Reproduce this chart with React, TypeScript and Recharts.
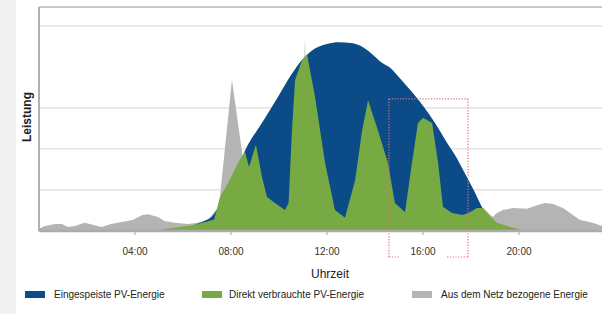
import React from 'react';
import {
  AreaChart,
  Area,
  XAxis,
  YAxis,
  CartesianGrid,
  ReferenceLine,
} from 'recharts';

// ---- data (hours of day, relative power) ----
const hourTicks = [4, 8, 12, 16, 20];
const tickLabels = ['04:00', '08:00', '12:00', '16:00', '20:00'];
const gridLines = [0, 1, 2, 3, 5];

// Eingespeiste PV-Energie (PV production envelope)
const pvTimes = [6.1, 6.4, 6.9, 7.2, 7.5, 8.0, 8.5, 8.6, 9.29, 9.96, 10.5, 11.0, 11.5, 12.0, 12.5, 13.0, 13.5, 14.0, 14.29, 14.63, 15.0, 15.46, 16.0, 16.5, 17.0, 17.33, 17.75, 18.17, 18.46, 18.6, 18.7];
const pvValues = [0, 0.12, 0.25, 0.35, 0.6, 1.25, 1.85, 1.98, 2.63, 3.27, 3.8, 4.2, 4.45, 4.56, 4.6, 4.58, 4.48, 4.25, 4.1, 3.98, 3.75, 3.44, 3.05, 2.63, 2.15, 1.85, 1.4, 0.93, 0.58, 0.45, 0];

// Direkt verbrauchte PV-Energie
const directTimes = [4.75, 6.5, 7.3, 7.54, 7.88, 8.29, 8.58, 8.75, 9.04, 9.29, 9.5, 9.83, 10.25, 10.4, 10.54, 10.67, 10.96, 11.17, 11.5, 11.92, 12.33, 12.75, 13.17, 13.46, 13.71, 14.13, 14.54, 14.83, 15.25, 15.54, 15.79, 16.0, 16.38, 16.63, 16.83, 17.21, 17.63, 17.9, 18.25, 18.5, 18.83, 19.08, 19.63, 20.13, 20.2];
const directValues = [0, 0.15, 0.28, 0.83, 1.17, 1.66, 1.93, 1.56, 2.1, 1.32, 0.83, 0.68, 0.51, 0.68, 2.46, 3.68, 4.17, 4.3, 3.27, 1.66, 0.51, 0.32, 1.24, 2.44, 3.19, 2.44, 1.66, 0.68, 0.46, 1.66, 2.63, 2.76, 2.63, 1.66, 0.59, 0.44, 0.39, 0.44, 0.56, 0.56, 0.34, 0.2, 0.1, 0.02, 0];

// Aus dem Netz bezogene Energie
const gridTimes = [0, 0.04, 0.25, 0.67, 0.96, 1.2, 1.5, 1.9, 2.25, 2.6, 3.0, 3.45, 3.9, 4.3, 4.55, 4.96, 5.25, 5.67, 6.2, 6.6, 7.0, 7.5, 8.04, 8.5, 8.8, 9.2, 10.85, 11.08, 11.3, 18.3, 18.5, 18.9, 19.08, 19.33, 19.75, 20.33, 20.75, 21.08, 21.42, 21.83, 22.13, 22.54, 23.08, 23.46, 24];
const gridValues = [0.05, 0.07, 0.12, 0.17, 0.17, 0.1, 0.12, 0.2, 0.15, 0.1, 0.17, 0.22, 0.27, 0.39, 0.41, 0.34, 0.24, 0.2, 0.17, 0.2, 0.25, 0.6, 3.68, 1.75, 0.5, 0.2, 0.2, 4.66, 0.2, 0.2, 0.56, 0.34, 0.44, 0.51, 0.56, 0.54, 0.63, 0.68, 0.66, 0.56, 0.44, 0.27, 0.2, 0.12, 0.1];

// highlighted window (dotted box), in hours / power units
const boxHours = [14.58, 17.875];
const boxValues = [-0.634, 3.22];
const boxGapHours = [15.04, 17.0];

const seriesNames = ['Eingespeiste PV-Energie', 'Direkt verbrauchte PV-Energie', 'Aus dem Netz bezogene Energie'];
const seriesColors = ['#0b4c88', '#77aa43', '#b4b4b4'];

const Y_MAX = 5.46;

const toData = (ts: number[], vs: number[]) => ts.map((t, i) => ({ t, v: vs[i] }));
const pvData = toData(pvTimes, pvValues);
const directData = toData(directTimes, directValues);
const gridData = toData(gridTimes, gridValues);

const FONT = '"Liberation Sans", Arial, Helvetica, sans-serif';
const RED = '#e0707c';

const legendRects = [25, 202, 412];
const legendTexts = [54, 229, 441];

const EmptyTick = () => <g />;

export default function App() {
  const boxStroke = { stroke: RED, strokeWidth: 1.2, strokeDasharray: '1.2 1.6', ifOverflow: 'visible' as const };
  return (
    <div
      style={{
        position: 'fixed',
        left: 0,
        top: 0,
        width: 602,
        height: 314,
        overflow: 'hidden',
        background: '#ffffff',
        fontFamily: FONT,
      }}
    >
      <div style={{ position: 'absolute', left: 0, top: 0, width: 16, height: 314, background: '#f1f1f1' }} />
      <div style={{ position: 'absolute', left: 0, top: 0 }}>
        <AreaChart width={640} height={314} margin={{ top: 7, right: 25, bottom: 53, left: 0 }}>
          <CartesianGrid vertical={false} horizontal={true} stroke="#dddddd" strokeWidth={1.2} />
          <XAxis
            type="number"
            dataKey="t"
            domain={[0, 24]}
            ticks={hourTicks}
            allowDataOverflow
            tickFormatter={(v: number) => tickLabels[hourTicks.indexOf(v)]}
            height={30}
            tickSize={4}
            tickMargin={13}
            tick={{ fontSize: 10, fill: '#333', fontFamily: FONT }}
            tickLine={{ stroke: '#aaa' }}
            axisLine={{ stroke: '#ababab', strokeWidth: 2.5 }}
            label={{
              content: (p: any) => {
                const vb = p.viewBox || {};
                return (
                  <text x={vb.x + vb.width / 2 + 3} y={278} textAnchor="middle" fontSize={12} fill="#222" fontFamily={FONT}>
                    Uhrzeit
                  </text>
                );
              },
            }}
          />
          <YAxis
            type="number"
            domain={[0, Y_MAX]}
            ticks={gridLines}
            interval={0}
            tick={EmptyTick}
            tickLine={false}
            width={39}
            axisLine={{ stroke: '#b0b0b0', strokeWidth: 2 }}
            label={{
              content: (p: any) => {
                const vb = p.viewBox || {};
                const cx = 31;
                const cy = vb.y + vb.height / 2 - 2;
                return (
                  <text x={cx} y={cy} transform={`rotate(-90 ${cx} ${cy})`} textAnchor="middle" fontSize={12} fontWeight="bold" fill="#222" fontFamily={FONT}>
                    Leistung
                  </text>
                );
              },
            }}
          />
          <ReferenceLine y={Y_MAX} stroke="#bcbcbc" strokeWidth={1.5} />
          <Area data={gridData} dataKey="v" type="linear" stroke="none" fill={seriesColors[2]} fillOpacity={1} isAnimationActive={false} />
          <Area data={pvData} dataKey="v" type="monotone" stroke="none" fill={seriesColors[0]} fillOpacity={1} isAnimationActive={false} />
          <Area data={directData} dataKey="v" type="linear" stroke="none" fill={seriesColors[1]} fillOpacity={1} isAnimationActive={false} />
          <ReferenceLine segment={[{ x: boxHours[0], y: boxValues[1] }, { x: boxHours[1], y: boxValues[1] }]} {...boxStroke} />
          <ReferenceLine segment={[{ x: boxHours[0], y: boxValues[0] }, { x: boxHours[0], y: boxValues[1] }]} {...boxStroke} />
          <ReferenceLine segment={[{ x: boxHours[1], y: boxValues[0] }, { x: boxHours[1], y: boxValues[1] }]} {...boxStroke} />
          <ReferenceLine segment={[{ x: boxHours[0], y: boxValues[0] }, { x: boxGapHours[0], y: boxValues[0] }]} {...boxStroke} />
          <ReferenceLine segment={[{ x: boxGapHours[1], y: boxValues[0] }, { x: boxHours[1], y: boxValues[0] }]} {...boxStroke} />
        </AreaChart>
      </div>
      {seriesNames.map((name, i) => (
        <React.Fragment key={name}>
          <div style={{ position: 'absolute', left: legendRects[i], top: 291, width: 20, height: 7, background: seriesColors[i] }} />
          <div style={{ position: 'absolute', left: legendTexts[i], top: 288, fontSize: 10, lineHeight: '13px', color: '#222', fontFamily: FONT, whiteSpace: 'nowrap' }}>
            {name}
          </div>
        </React.Fragment>
      ))}
    </div>
  );
}
